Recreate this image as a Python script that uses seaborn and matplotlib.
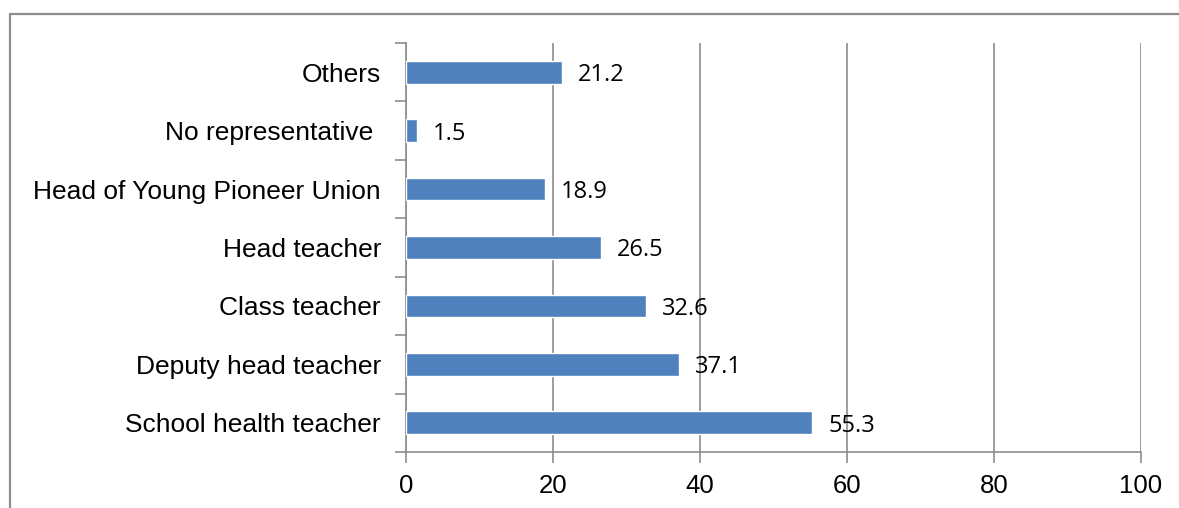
import matplotlib
matplotlib.use("Agg")
import matplotlib.pyplot as plt
from matplotlib.lines import Line2D
import seaborn as sns
import pandas as pd

categories = ["Others", "No representative ", "Head of Young Pioneer Union",
              "Head teacher", "Class teacher", "Deputy head teacher",
              "School health teacher"]
values = [21.2, 1.5, 18.9, 26.5, 32.6, 37.1, 55.3]
x_ticks = [0, 20, 40, 60, 80, 100]

sns.set_style("white")
plt.rcParams['font.family'] = ['Liberation Sans', 'DejaVu Sans']

df = pd.DataFrame({"category": categories, "value": values})

grid_col = "#8c8c8c"
W, H = 1179, 508
fig = plt.figure(figsize=(W / 100, H / 100), dpi=100)
ax = fig.add_axes([406 / W, 1 - 452 / H, (1141 - 406) / W, (452 - 43) / H])

sns.barplot(data=df, x="value", y="category", orient="h", color="#4F81BD",
            saturation=1, width=0.39, ax=ax, zorder=3)

ax.set_xlim(0, 100)
ax.set_ylim(len(categories) - 0.5, -0.5)
ax.set_xticks(x_ticks)
ax.set_xticklabels([str(t) for t in x_ticks], fontsize=18.5, color="black")
ax.set_yticklabels(categories, fontsize=19, color="black")
ax.xaxis.grid(True, color=grid_col, linewidth=1.2, zorder=0)
ax.set_axisbelow(True)
ax.set_xlabel("")
ax.set_ylabel("")

# category ticks sit on the boundaries, labels on the centres
ax.set_yticks([i + 0.5 for i in range(-1, len(categories))], minor=True)
ax.tick_params(axis="y", which="major", length=0, pad=18)
ax.tick_params(axis="y", which="minor", length=8, width=1.2, color=grid_col, direction="out")
ax.tick_params(axis="x", which="major", length=8, width=1.2, color=grid_col, direction="out", pad=8)
ax.yaxis.tick_left()
ax.xaxis.tick_bottom()

for s in ["top", "right"]:
    ax.spines[s].set_visible(False)
for s in ["left", "bottom"]:
    ax.spines[s].set_color(grid_col)
    ax.spines[s].set_linewidth(1.2)

for i, v in enumerate(values):
    ax.text(v + 2.2, i + 0.05, f"{v}", va="center", ha="left", fontsize=17,
            family=["Open Sans", "DejaVu Sans"], color="black")

# outer frame (only top and left edges visible in the crop)
fig.add_artist(Line2D([10 / W, 1], [1 - 14 / H, 1 - 14 / H], color=grid_col, linewidth=1.6))
fig.add_artist(Line2D([10 / W, 10 / W], [0, 1 - 14 / H], color=grid_col, linewidth=1.6))

fig.savefig("out.png", dpi=100)
